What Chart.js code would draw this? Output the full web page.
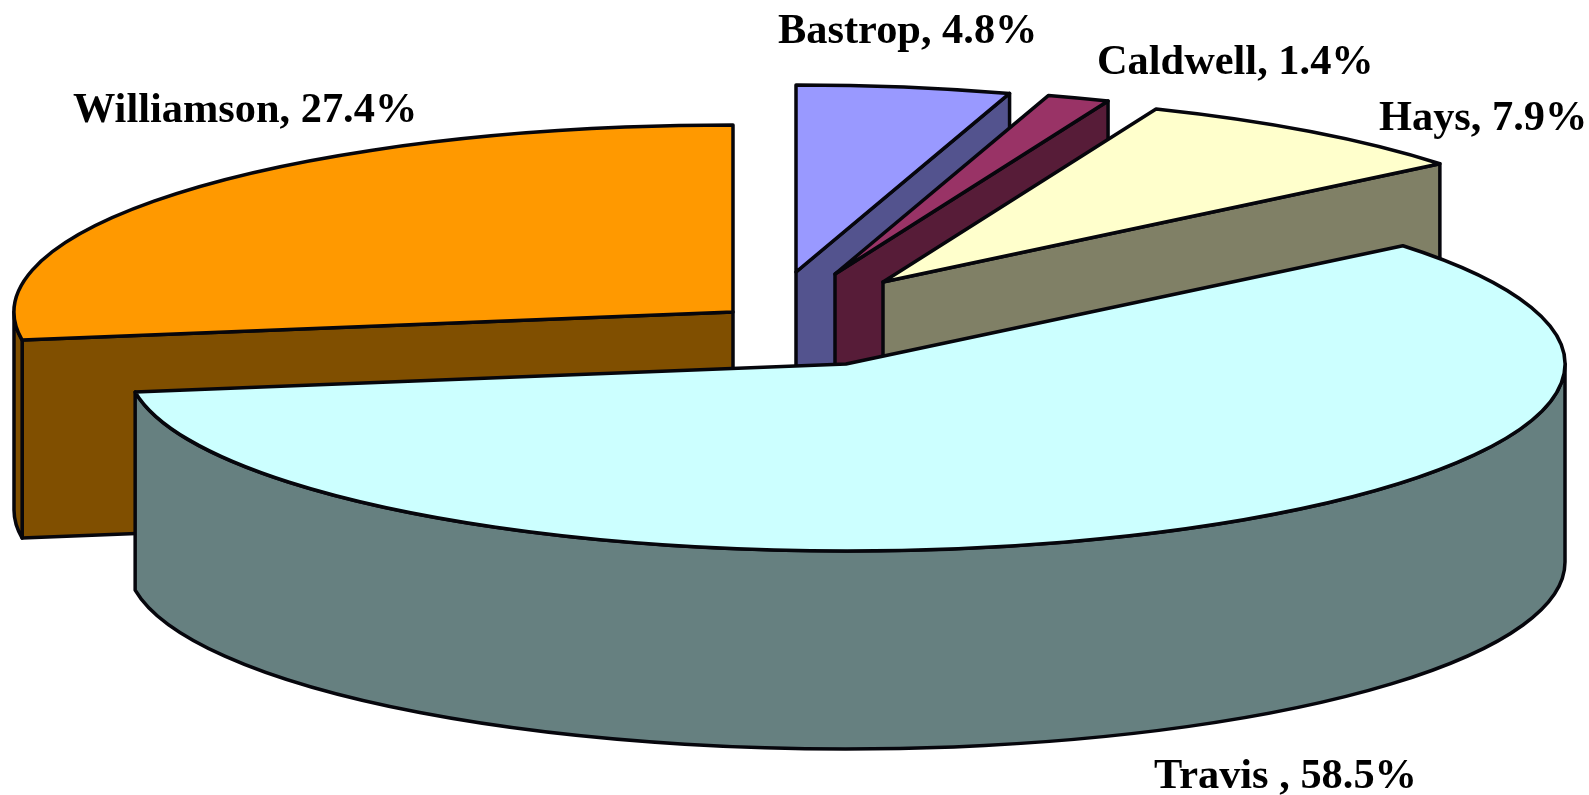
<!DOCTYPE html>
<html>
<head>
<meta charset="utf-8">
<style>html,body{margin:0;padding:0;background:#fff;overflow:hidden}canvas{display:block}</style>
<script src="https://cdn.jsdelivr.net/npm/chart.js@4/dist/chart.umd.min.js"></script>
</head>
<body>
<canvas id="c" width="1589" height="795"></canvas>
<script>
const categories = ['Bastrop', 'Caldwell', 'Hays', 'Travis ', 'Williamson'];
const shares = [4.8, 1.4, 7.9, 58.5, 27.4];
const topColors = ['#9999FF', '#993366', '#FFFFCC', '#CCFFFF', '#FF9900'];
const wallColors = ['#53538E', '#571C38', '#808066', '#668080', '#804F00'];
const paintOrder = [4, 0, 1, 2, 3];
const explodeX = [796, 835, 883, 846, 733];
const explodeY = [272, 274, 282, 364, 312];
const labelX = [778, 1097, 1379, 1154, 73];
const labelY = [43, 74, 130, 788, 122];
const RX = 719, RY = 187, DEPTH = 198, LINE = '#06060c', LINE_W = 3.5;
const FONT = 'bold 42.4px "Liberation Serif", "Times New Roman", serif';

const pie3d = {
  id: 'pie3d',
  beforeDatasetsDraw(chart) {
    const ctx = chart.ctx;
    const arcs = chart.getDatasetMeta(0).data;
    const outline = () => { ctx.strokeStyle = LINE; ctx.lineWidth = LINE_W; ctx.lineJoin = 'round'; ctx.stroke(); };
    paintOrder.forEach(i => {
      const el = arcs[i];
      const px = explodeX[i], py = explodeY[i];
      const s = el.startAngle, e = el.endAngle;
      const pt = a => [px + RX * Math.cos(a), py + RY * Math.sin(a)];
      ctx.fillStyle = wallColors[i];
      const side = a => {
        const [x, y] = pt(a);
        ctx.beginPath();
        ctx.moveTo(px, py); ctx.lineTo(x, y); ctx.lineTo(x, y + DEPTH); ctx.lineTo(px, py + DEPTH);
        ctx.closePath(); ctx.fill(); outline();
      };
      if (Math.cos(e) > 0) side(e);
      if (Math.cos(s) < 0) side(s);
      // curved rim: the part of the slice that lies in the front half of the ellipse
      const from = Math.max(s, 0), to = Math.min(e, Math.PI);
      if (to > from) {
        ctx.beginPath();
        ctx.ellipse(px, py, RX, RY, 0, from, to);
        ctx.ellipse(px, py + DEPTH, RX, RY, 0, to, from, true);
        ctx.closePath(); ctx.fill(); outline();
      }
      // top face: the library's own arc element, flattened to an ellipse
      ctx.save();
      ctx.translate(px, py);
      ctx.scale(RX / el.outerRadius, RY / el.outerRadius);
      ctx.translate(-el.x, -el.y);
      el.draw(ctx, chart.chartArea);
      ctx.restore();
      ctx.beginPath();
      ctx.moveTo(px, py);
      ctx.ellipse(px, py, RX, RY, 0, s, e);
      ctx.closePath(); outline();
    });
    return false;
  },
  afterDraw(chart) {
    const ctx = chart.ctx;
    ctx.save();
    ctx.font = FONT; ctx.fillStyle = '#000'; ctx.textAlign = 'left'; ctx.textBaseline = 'alphabetic';
    categories.forEach((c, i) => ctx.fillText(c + ', ' + shares[i].toFixed(1) + '%', labelX[i], labelY[i]));
    ctx.restore();
  }
};

new Chart(document.getElementById('c'), {
  type: 'pie',
  data: { labels: categories, datasets: [{ data: shares, backgroundColor: topColors, borderWidth: 0, hoverOffset: 0 }] },
  options: {
    responsive: false, animation: false, events: [], rotation: 0,
    plugins: { legend: { display: false }, tooltip: { enabled: false } }
  },
  plugins: [pie3d]
});
</script>
</body>
</html>
